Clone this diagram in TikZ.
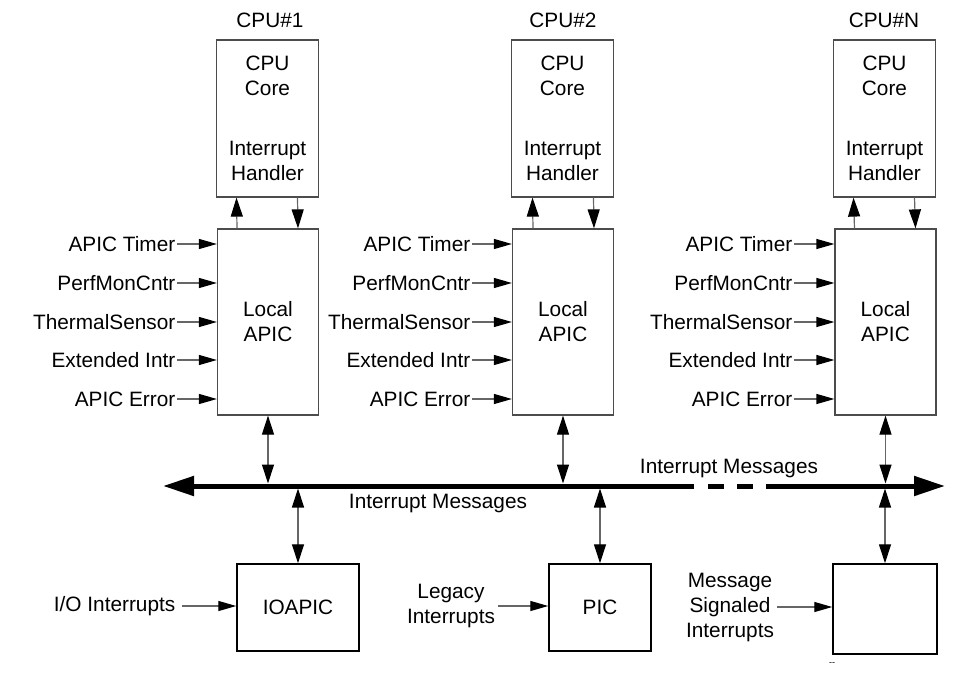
\documentclass[tikz,border=0pt]{standalone}
\usepackage{fontspec}
\setmainfont{Liberation Sans}
\usetikzlibrary{arrows.meta}
\usetikzlibrary{calc}
\tikzset{
	corestyle/.style={rectangle,draw=black!70,line width=1.2pt,fill=white,minimum width=102,minimum height=157,align=center,inner sep=0},
	apicstyle/.style={rectangle,draw=black!70,line width=1.2pt,fill=white,minimum width=101,minimum height=186,align=center,inner sep=0},
	devstyle/.style={rectangle,draw=black,line width=1.5pt,fill=white,align=center,inner sep=0},
	lblstyle/.style={inner sep=1.5pt,anchor=east},
	instyle/.style={draw=black!60,line width=1.2pt,-{Triangle[length=18pt,width=10pt,color=black]}},
	vstyle/.style={draw=black!60,line width=1.2pt,-{Triangle[length=19pt,width=12pt,color=black]}},
	dblstyle/.style={draw=black!60,line width=1.2pt,{Triangle[length=19pt,width=12pt,color=black]}-{Triangle[length=19pt,width=12pt,color=black]}},
	busstyle/.style={draw=black,line width=5pt}
}
\begin{document}
\begin{tikzpicture}[x=1pt,y=-1pt,font=\fontsize{20.8}{25}\selectfont]
	\useasboundingbox (0,0) rectangle (964,674);
	% processors
	\node (cpu1) at (270,20) {CPU\#1};
	\node (cpu2) at (563,20) {CPU\#2};
	\node (cpuN) at (884,20) {CPU\#N};
	\node[corestyle] (core1) at (267.5,118.5) {CPU\\Core\\[35pt]Interrupt\\Handler};
	\node[corestyle] (core2) at (562.5,118.5) {CPU\\Core\\[35pt]Interrupt\\Handler};
	\node[corestyle] (coreN) at (884.5,118.5) {CPU\\Core\\[35pt]Interrupt\\Handler};
	\node[apicstyle] (apic1) at (268,322) {Local\\APIC};
	\node[apicstyle] (apic2) at (563,322) {Local\\APIC};
	\node[apicstyle] (apicN) at (885.5,322) {Local\\APIC};
	\draw[vstyle] ([xshift=-31]apic1.north) -- ([xshift=-31]core1.south);
	\draw[vstyle] ([xshift=30]core1.south) -- ([xshift=30]apic1.north);
	\draw[vstyle] ([xshift=-30]apic2.north) -- ([xshift=-30]core2.south);
	\draw[vstyle] ([xshift=31]core2.south) -- ([xshift=31]apic2.north);
	\draw[vstyle] ([xshift=-31]apicN.north) -- ([xshift=-31]coreN.south);
	\draw[vstyle] ([xshift=30]coreN.south) -- ([xshift=30]apicN.north);
	% local interrupt sources
	\node[lblstyle] (tmr1) at (177,244) {APIC Timer};
	\node[lblstyle] (pmc1) at (177,283) {PerfMonCntr};
	\node[lblstyle] (ths1) at (177,322) {ThermalSensor};
	\node[lblstyle] (ext1) at (177,360) {Extended Intr};
	\node[lblstyle] (err1) at (177,399) {APIC Error};
	\node[lblstyle] (tmr2) at (472,244) {APIC Timer};
	\node[lblstyle] (pmc2) at (472,283) {PerfMonCntr};
	\node[lblstyle] (ths2) at (472,322) {ThermalSensor};
	\node[lblstyle] (ext2) at (472,360) {Extended Intr};
	\node[lblstyle] (err2) at (472,399) {APIC Error};
	\node[lblstyle] (tmrN) at (794,244) {APIC Timer};
	\node[lblstyle] (pmcN) at (794,283) {PerfMonCntr};
	\node[lblstyle] (thsN) at (794,322) {ThermalSensor};
	\node[lblstyle] (extN) at (794,360) {Extended Intr};
	\node[lblstyle] (errN) at (794,399) {APIC Error};
	\draw[instyle] (tmr1.east) -- (tmr1.east -| apic1.west);
	\draw[instyle] (pmc1.east) -- (pmc1.east -| apic1.west);
	\draw[instyle] (ths1.east) -- (ths1.east -| apic1.west);
	\draw[instyle] (ext1.east) -- (ext1.east -| apic1.west);
	\draw[instyle] (err1.east) -- (err1.east -| apic1.west);
	\draw[instyle] (tmr2.east) -- (tmr2.east -| apic2.west);
	\draw[instyle] (pmc2.east) -- (pmc2.east -| apic2.west);
	\draw[instyle] (ths2.east) -- (ths2.east -| apic2.west);
	\draw[instyle] (ext2.east) -- (ext2.east -| apic2.west);
	\draw[instyle] (err2.east) -- (err2.east -| apic2.west);
	\draw[instyle] (tmrN.east) -- (tmrN.east -| apicN.west);
	\draw[instyle] (pmcN.east) -- (pmcN.east -| apicN.west);
	\draw[instyle] (thsN.east) -- (thsN.east -| apicN.west);
	\draw[instyle] (extN.east) -- (extN.east -| apicN.west);
	\draw[instyle] (errN.east) -- (errN.east -| apicN.west);
	% message bus
	\coordinate (busL) at (163,486);
	\coordinate (gapL) at (694,486);
	\coordinate (dashA) at (708,486);
	\coordinate (dashB) at (724,486);
	\coordinate (dashC) at (737,486);
	\coordinate (dashD) at (753,486);
	\coordinate (gapR) at (766,486);
	\coordinate (busR) at (945,486);
	\draw[busstyle,{Triangle[length=31pt,width=19pt]}-] (busL) -- (gapL);
	\draw[busstyle] (dashA) -- (dashB);
	\draw[busstyle] (dashC) -- (dashD);
	\draw[busstyle,-{Triangle[length=31pt,width=19pt]}] (gapR) -- (busR);
	\node (msgL) at (438,503) {Interrupt Messages};
	\node (msgR) at (729,468) {Interrupt Messages};
	% devices
	\node[devstyle,minimum width=122,minimum height=87] (ioapic) at (298,607.5) {IOAPIC};
	\node[devstyle,minimum width=102,minimum height=87] (pic) at (600,607.5) {PIC};
	\node[devstyle,minimum width=104,minimum height=90] (msi) at (885,609) {};
	\node[lblstyle] (io) at (177,606) {I/O Interrupts};
	\node[align=center] (leg) at (451,606) {Legacy\\Interrupts};
	\node[align=center] (msg) at (730,607) {Message\\Signaled\\Interrupts};
	\node[font=\fontsize{9}{9}\selectfont] (mark) at (832,664) {{-}{-}};
	\draw[instyle,shorten <=5pt] (io.east) -- (io.east -| ioapic.west);
	\draw[instyle] (leg.east) -- (leg.east -| pic.west);
	\draw[instyle] (msg.east) -- (msg.east -| msi.west);
	% bus links
	\draw[dblstyle,shorten >=2.5pt] (apic1.south) -- (apic1.south |- busL);
	\draw[dblstyle,shorten >=2.5pt] (apic2.south) -- (apic2.south |- busL);
	\draw[dblstyle,shorten >=2.5pt] (apicN.south) -- (apicN.south |- busL);
	\draw[dblstyle,shorten <=2.5pt] (ioapic.north |- busL) -- (ioapic.north);
	\draw[dblstyle,shorten <=2.5pt] (pic.north |- busL) -- (pic.north);
	\draw[dblstyle,shorten <=2.5pt] (msi.north |- busL) -- (msi.north);
\end{tikzpicture}
\end{document}
